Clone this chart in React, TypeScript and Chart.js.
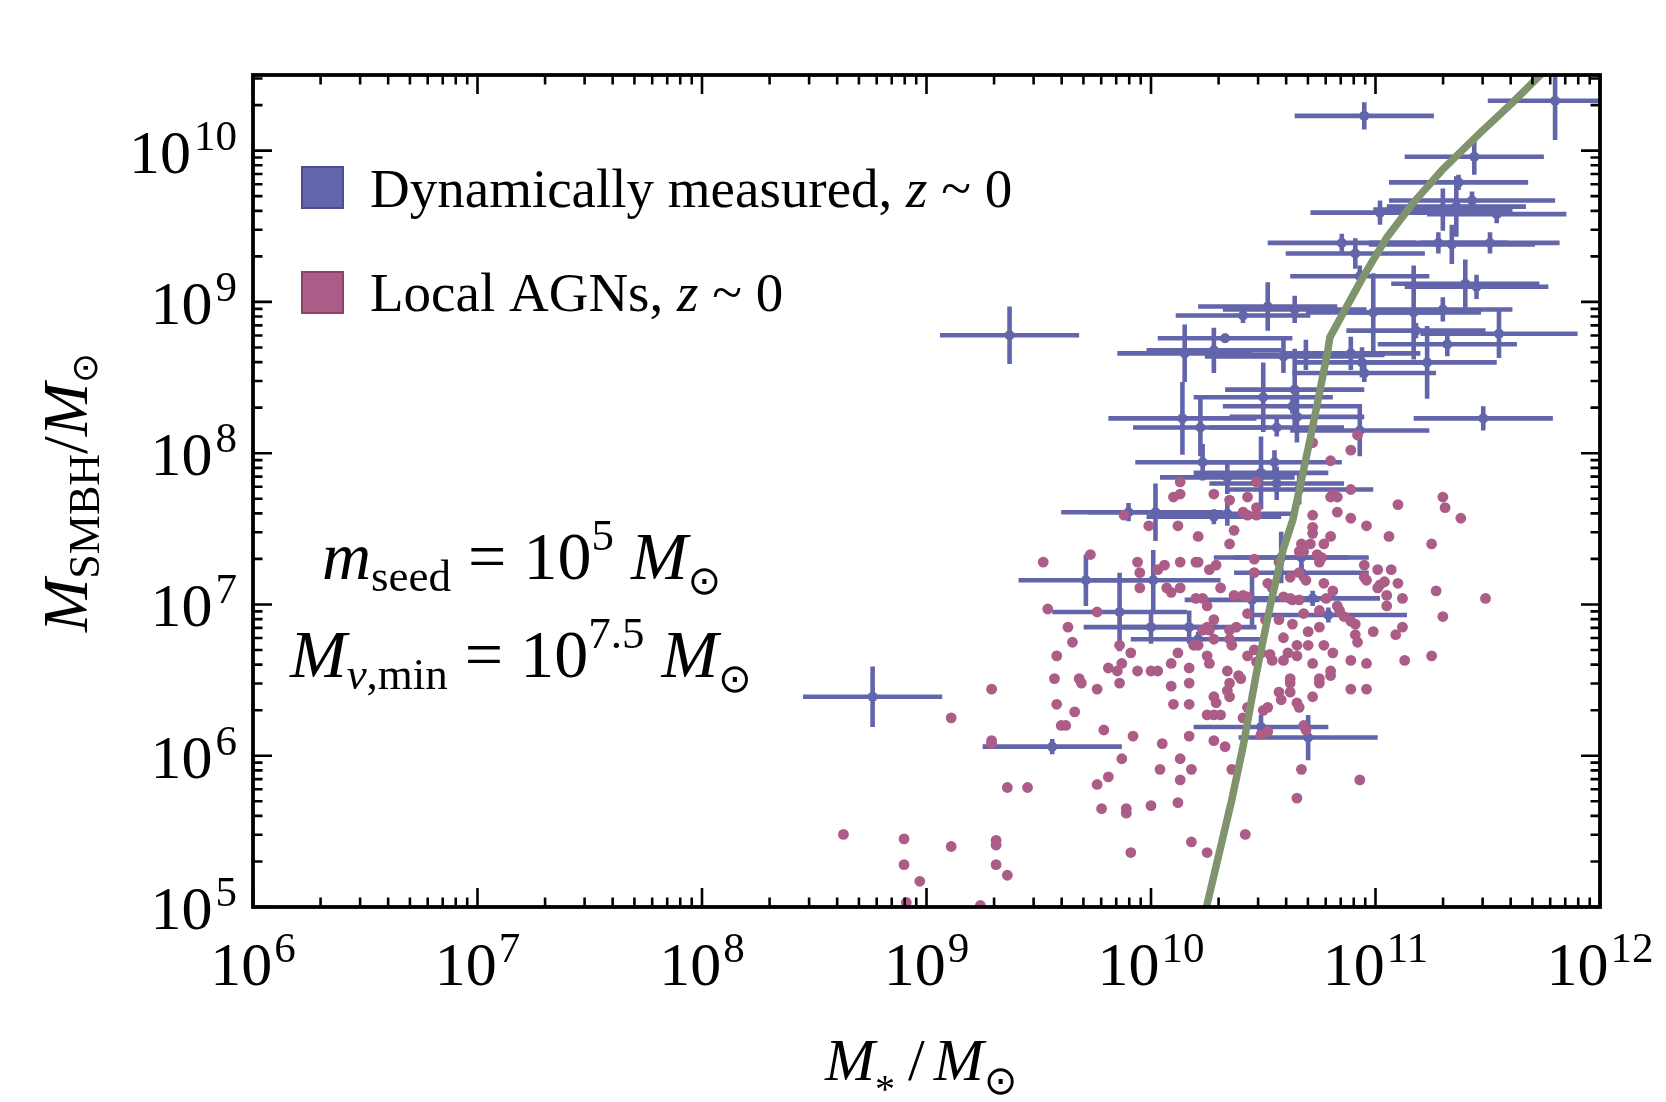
import React, { useEffect, useRef } from 'react';
import { Chart, registerables } from 'chart.js';

Chart.register(...registerables);

// ---------- axes ----------
const xTickExps = [6, 7, 8, 9, 10, 11, 12];
const yTickExps = [5, 6, 7, 8, 9, 10];
const X_MIN = 1e6;
const X_MAX = 1e12;
const Y_MIN = 1e5;
const Y_MAX = Math.pow(10, 10.5);

// ---------- model curve (log10 values) ----------
const curveLogMstar = [10.237, 10.247, 10.36, 10.41, 10.47, 10.53, 10.588, 10.632, 10.708, 10.744, 10.788, 10.797, 10.944, 11.051, 11.167, 11.296, 11.465, 11.612, 11.724, 11.77];
const curveLogMbh = [4.95, 5.0, 5.71, 6.06, 6.55, 6.985, 7.36, 7.56, 8.087, 8.35, 8.682, 8.767, 9.164, 9.428, 9.653, 9.871, 10.116, 10.32, 10.485, 10.55];

// ---------- dynamically measured SMBHs (log10 values, symmetric errors in dex) ----------
const dynLogMstar = [10.95, 11.80, 11.44, 11.37, 11.43, 11.54, 11.02, 11.30, 11.36, 10.85, 11.28, 11.34, 11.51, 10.91, 10.93, 11.40, 11.45, 10.52, 10.64, 10.41, 10.99, 11.17, 11.30, 10.15, 10.28, 10.33, 11.55, 11.18, 10.59, 10.69, 10.89, 11.32, 11.23, 10.94, 10.95, 11.48, 10.14, 10.22, 10.56, 10.50, 10.64, 10.65, 10.63, 10.93, 9.37, 10.23, 10.55, 10.49, 10.56, 10.34, 10.66, 9.90, 10.02, 10.28, 10.34, 10.58, 10.67, 10.67, 10.45, 10.72, 10.79, 9.71, 10.01, 9.86, 10.00, 10.17, 10.21, 10.49, 10.70, 9.56, 8.76];
const dynLogMstarErr = [0.31, 0.30, 0.31, 0.31, 0.37, 0.31, 0.31, 0.31, 0.31, 0.33, 0.31, 0.37, 0.31, 0.31, 0.31, 0.33, 0.32, 0.31, 0.32, 0.30, 0.30, 0.30, 0.31, 0.30, 0.30, 0.30, 0.35, 0.31, 0.35, 0.35, 0.31, 0.31, 0.31, 0.30, 0.32, 0.31, 0.33, 0.30, 0.30, 0.31, 0.31, 0.30, 0.31, 0.31, 0.31, 0.30, 0.30, 0.30, 0.30, 0.30, 0.33, 0.30, 0.30, 0.30, 0.30, 0.30, 0.30, 0.30, 0.30, 0.30, 0.35, 0.30, 0.30, 0.30, 0.30, 0.30, 0.30, 0.30, 0.31, 0.31, 0.31];
const dynLogMbh = [10.23, 10.33, 9.96, 9.79, 9.67, 9.58, 9.59, 9.61, 9.63, 9.39, 9.39, 9.38, 9.39, 9.32, 9.17, 9.12, 9.10, 8.97, 8.95, 8.91, 8.93, 8.93, 8.95, 8.66, 8.68, 8.76, 8.79, 8.81, 8.64, 8.65, 8.66, 8.72, 8.60, 8.60, 8.53, 8.23, 8.23, 8.17, 8.17, 8.37, 8.42, 8.24, 8.31, 8.15, 8.78, 7.94, 7.94, 7.87, 7.80, 7.84, 7.76, 7.61, 7.61, 7.58, 7.60, 7.31, 7.31, 7.21, 7.03, 7.04, 6.93, 7.16, 7.16, 6.95, 6.85, 6.85, 6.77, 6.19, 6.12, 6.06, 6.39];
const dynLogMbhErr = [0.09, 0.26, 0.12, 0.05, 0.06, 0.06, 0.08, 0.14, 0.20, 0.06, 0.07, 0.13, 0.07, 0.10, 0.07, 0.16, 0.08, 0.16, 0.09, 0.05, 0.26, 0.31, 0.08, 0.19, 0.15, 0.03, 0.16, 0.05, 0.11, 0.10, 0.11, 0.08, 0.24, 0.10, 0.06, 0.08, 0.24, 0.19, 0.06, 0.23, 0.27, 0.17, 0.05, 0.17, 0.19, 0.12, 0.08, 0.24, 0.11, 0.11, 0.10, 0.06, 0.19, 0.05, 0.08, 0.17, 0.11, 0.05, 0.18, 0.05, 0.05, 0.17, 0.20, 0.26, 0.11, 0.11, 0.05, 0.08, 0.15, 0.05, 0.20];

// ---------- local AGNs (log10 M*, log10 MBH) ----------
const agnLogMasses: [number, number][] = [
  [10.92, 8.12], [10.89, 8.02], [10.80, 7.95], [10.72, 8.07], [10.13, 7.81], [10.13, 7.73], [10.10, 7.71], [10.28, 7.73], [10.35, 7.69], [10.43, 7.71],
  [10.47, 7.81], [10.89, 7.76], [10.81, 7.73], [10.80, 7.71], [10.83, 7.71], [10.83, 7.61], [10.72, 7.59], [10.89, 7.57], [10.96, 7.52], [10.72, 7.51],
  [10.72, 7.47], [10.80, 7.45], [10.77, 7.40], [10.67, 7.40], [10.71, 7.40], [10.47, 7.64], [10.47, 7.59], [10.41, 7.61], [10.43, 7.59], [9.88, 7.59],
  [9.99, 7.52], [10.12, 7.52], [10.21, 7.45], [10.37, 7.49], [10.35, 7.40], [11.10, 7.66], [11.06, 7.45], [11.25, 7.40], [11.30, 7.71], [11.31, 7.64],
  [9.73, 7.33], [9.52, 7.28], [9.94, 7.28], [9.95, 7.21], [10.03, 7.23], [10.06, 7.26], [10.13, 7.28], [10.20, 7.28], [10.21, 7.28], [10.26, 7.23],
  [10.29, 7.26], [10.46, 7.30], [10.57, 7.28], [10.46, 7.21], [10.62, 7.18], [10.66, 7.35], [10.68, 7.35], [10.66, 7.21], [10.69, 7.16], [10.74, 7.33],
  [10.75, 7.28], [10.76, 7.31], [10.95, 7.26], [11.01, 7.23], [11.07, 7.23], [10.95, 7.18], [10.96, 7.16], [11.04, 7.15], [11.02, 7.13], [11.01, 7.11],
  [11.10, 7.14], [11.05, 7.06], [11.12, 7.04], [11.05, 6.99], [11.27, 7.09], [11.30, 6.92], [10.81, 7.09], [10.78, 7.04], [10.77, 7.14], [10.52, 7.14],
  [10.54, 7.11], [10.41, 7.06], [10.37, 7.06], [10.43, 7.05], [10.31, 7.11], [10.13, 7.11], [10.07, 7.11], [10.09, 7.08], [9.95, 7.11], [10.20, 7.04],
  [10.23, 7.04], [10.25, 6.99], [10.59, 7.05], [10.62, 7.04], [10.66, 7.03], [10.63, 7.03], [10.68, 6.94], [10.83, 6.99], [10.84, 6.96], [10.86, 6.92],
  [10.89, 6.89], [10.91, 6.87], [10.91, 6.80], [10.92, 6.75], [10.99, 6.82], [11.09, 6.80], [11.12, 6.85], [10.75, 6.96], [10.57, 6.90], [10.63, 6.87],
  [10.51, 6.90], [10.43, 6.94], [10.38, 6.85], [10.35, 6.83], [10.28, 6.90], [10.25, 6.85], [10.23, 6.83], [10.26, 6.83], [10.28, 6.77], [10.35, 6.77],
  [10.36, 6.73], [9.76, 6.95], [9.54, 6.97], [9.63, 6.85], [9.65, 6.75], [9.86, 6.73], [9.91, 6.68], [10.12, 6.68], [10.19, 6.73], [10.21, 6.73],
  [10.59, 6.78], [10.65, 6.73], [10.70, 6.73], [10.77, 6.73], [10.70, 6.82], [10.75, 6.85], [10.81, 6.68], [10.89, 6.63], [10.96, 6.61], [11.13, 6.63],
  [11.25, 6.66], [10.72, 6.61], [10.65, 6.66], [10.61, 6.68], [10.59, 6.63], [10.53, 6.67], [10.49, 6.68], [10.46, 6.70], [10.47, 6.62], [10.54, 6.63],
  [10.43, 6.66], [10.25, 6.66], [10.26, 6.61], [10.34, 6.56], [10.39, 6.53], [10.40, 6.51], [10.35, 6.48], [10.34, 6.43], [10.35, 6.39], [10.28, 6.39],
  [10.29, 6.35], [10.25, 6.27], [10.28, 6.27], [10.31, 6.27], [10.17, 6.34], [10.10, 6.34], [10.17, 6.48], [10.09, 6.46], [10.17, 6.58], [10.09, 6.61],
  [10.00, 6.56], [10.03, 6.56], [9.94, 6.56], [9.85, 6.56], [9.81, 6.58], [9.87, 6.61], [9.86, 6.48], [9.76, 6.44], [9.69, 6.48], [9.68, 6.51],
  [9.57, 6.51], [9.58, 6.66], [9.29, 6.44], [9.58, 6.34], [9.66, 6.29], [9.60, 6.20], [9.62, 6.20], [9.79, 6.17], [9.92, 6.13], [10.05, 6.08],
  [10.17, 6.13], [10.28, 6.10], [10.33, 6.06], [10.41, 6.25], [10.43, 6.32], [10.50, 6.30], [10.52, 6.32], [10.49, 6.14], [10.52, 6.16], [10.57, 6.42],
  [10.58, 6.37], [10.62, 6.42], [10.65, 6.35], [10.66, 6.32], [10.72, 6.39], [10.62, 6.51], [10.62, 6.48], [10.75, 6.51], [10.75, 6.48], [10.80, 6.56],
  [10.80, 6.53], [10.89, 6.44], [10.96, 6.44], [10.68, 6.20], [10.69, 6.17], [9.29, 6.10], [9.29, 6.08], [9.11, 6.25],
  [8.63, 5.48], [8.90, 5.45], [8.90, 5.28], [8.97, 5.17], [9.11, 5.40], [9.31, 5.44], [9.31, 5.41], [9.31, 5.28], [9.36, 5.21], [9.36, 5.79],
  [9.45, 5.79], [9.87, 5.98], [9.81, 5.86], [9.76, 5.81], [9.78, 5.65], [9.89, 5.65], [9.89, 5.62], [10.00, 5.67], [10.12, 5.69], [10.04, 5.91],
  [10.13, 5.98], [10.13, 5.84], [10.18, 5.91], [10.18, 5.43], [10.25, 5.36], [9.91, 5.36], [10.42, 5.48], [10.36, 5.91], [10.65, 5.72], [10.67, 5.91],
  [10.93, 5.84], [9.24, 5.01], [8.91, 5.03], [11.38, 7.57], [11.49, 7.04]
];

// ---------- styling ----------
const BLUE = '#6365ab';
const BLUE_EDGE = '#4c4d8c';
const PINK = '#ab5c87';
const PINK_EDGE = '#864468';
const GREEN = '#7f936d';
const SERIF = '"Liberation Serif", "Times New Roman", "DejaVu Sans", serif';

type Run = { t: string; size: number; italic?: boolean; dy?: number; dx?: number };

function fontOf(r: Run) {
  return `${r.italic ? 'italic ' : ''}${r.size}px ${SERIF}`;
}
function measureRuns(ctx: CanvasRenderingContext2D, runs: Run[]) {
  let w = 0;
  for (const r of runs) {
    ctx.font = fontOf(r);
    w += (r.dx || 0) + ctx.measureText(r.t).width;
  }
  return w;
}
function drawRuns(ctx: CanvasRenderingContext2D, runs: Run[], x: number, y: number) {
  let cx = x;
  for (const r of runs) {
    cx += r.dx || 0;
    ctx.font = fontOf(r);
    ctx.fillText(r.t, cx, y + (r.dy || 0));
    cx += ctx.measureText(r.t).width;
  }
  return cx - x;
}

function logTicks(min: number, max: number) {
  const out: { value: number; major: boolean }[] = [];
  for (let e = Math.floor(Math.log10(min)); e <= Math.floor(Math.log10(max)); e++) {
    for (let m = 1; m <= 9; m++) {
      const v = m * Math.pow(10, e);
      if (v >= min * 0.9999 && v <= max * 1.0001) out.push({ value: v, major: m === 1 });
    }
  }
  return out;
}

const errorBarPlugin = {
  id: 'errorBars',
  beforeDatasetsDraw(chart: any) {
    const { ctx, chartArea: a, scales } = chart;
    const xs = scales.x;
    const ys = scales.y;
    ctx.save();
    ctx.beginPath();
    ctx.rect(a.left, a.top, a.right - a.left, a.bottom - a.top);
    ctx.clip();
    ctx.strokeStyle = BLUE;
    ctx.lineWidth = 4.6;
    ctx.lineCap = 'butt';
    dynLogMstar.forEach((lx, i) => {
      const ly = dynLogMbh[i];
      const px = xs.getPixelForValue(Math.pow(10, lx));
      const py = ys.getPixelForValue(Math.pow(10, ly));
      const x0 = xs.getPixelForValue(Math.pow(10, lx - dynLogMstarErr[i]));
      const x1 = xs.getPixelForValue(Math.pow(10, lx + dynLogMstarErr[i]));
      const y0 = ys.getPixelForValue(Math.pow(10, ly - dynLogMbhErr[i]));
      const y1 = ys.getPixelForValue(Math.pow(10, ly + dynLogMbhErr[i]));
      ctx.beginPath();
      ctx.moveTo(x0, py);
      ctx.lineTo(x1, py);
      ctx.moveTo(px, y0);
      ctx.lineTo(px, y1);
      ctx.stroke();
    });
    ctx.restore();
  },
};

const framePlugin = {
  id: 'frameAndText',
  afterDraw(chart: any) {
    const { ctx, chartArea: a, scales } = chart;
    const xs = scales.x;
    const ys = scales.y;
    ctx.save();
    ctx.strokeStyle = '#000';
    ctx.fillStyle = '#000';
    ctx.lineCap = 'butt';
    ctx.lineWidth = 2.6;
    const MAJ = 19;
    const MIN = 9.5;
    ctx.beginPath();
    for (const t of xs.ticks) {
      const px = xs.getPixelForValue(t.value);
      const len = t.major ? MAJ : MIN;
      ctx.moveTo(px, a.bottom);
      ctx.lineTo(px, a.bottom - len);
      ctx.moveTo(px, a.top);
      ctx.lineTo(px, a.top + len);
    }
    for (const t of ys.ticks) {
      const py = ys.getPixelForValue(t.value);
      const len = t.major ? MAJ : MIN;
      ctx.moveTo(a.left, py);
      ctx.lineTo(a.left + len, py);
      ctx.moveTo(a.right, py);
      ctx.lineTo(a.right - len, py);
    }
    ctx.stroke();
    ctx.lineWidth = 3.8;
    ctx.strokeRect(a.left, a.top, a.right - a.left, a.bottom - a.top);

    // tick labels
    ctx.textAlign = 'left';
    ctx.textBaseline = 'alphabetic';
    for (const e of xTickExps) {
      const px = xs.getPixelForValue(Math.pow(10, e));
      const runs: Run[] = [{ t: '10', size: 62 }, { t: String(e), size: 43, dy: -23, dx: 2 }];
      const w = measureRuns(ctx, runs);
      drawRuns(ctx, runs, px - w / 2, a.bottom + 78);
    }
    for (const e of yTickExps) {
      const py = ys.getPixelForValue(Math.pow(10, e));
      const runs: Run[] = [{ t: '10', size: 62 }, { t: String(e), size: 43, dy: -23, dx: 3 }];
      const w = measureRuns(ctx, runs);
      drawRuns(ctx, runs, a.left - 16 - w, py + 22);
    }

    // x title
    drawRuns(ctx, [
      { t: 'M', size: 60, italic: true },
      { t: '*', size: 40, dy: 22 },
      { t: '/', size: 60, dx: 13 },
      { t: 'M', size: 60, italic: true, dx: 9 },
      { t: '\u2299', size: 40, dy: 14 },
    ], 825, 1080);

    // y title (rotated)
    ctx.save();
    ctx.translate(87, 632);
    ctx.rotate(-Math.PI / 2);
    drawRuns(ctx, [
      { t: 'M', size: 64, italic: true },
      { t: 'SMBH', size: 44, dy: 12 },
      { t: '/', size: 64 },
      { t: 'M', size: 64, italic: true },
      { t: '\u2299', size: 36, dy: 10 },
    ], 0, 0);
    ctx.restore();

    // legend
    ctx.lineWidth = 2;
    ctx.fillStyle = BLUE;
    ctx.fillRect(302, 167, 41, 41);
    ctx.strokeStyle = BLUE_EDGE;
    ctx.strokeRect(302, 167, 41, 41);
    ctx.fillStyle = PINK;
    ctx.fillRect(302, 272, 41, 41);
    ctx.strokeStyle = PINK_EDGE;
    ctx.strokeRect(302, 272, 41, 41);
    ctx.fillStyle = '#000';
    drawRuns(ctx, [
      { t: 'Dynamically measured, ', size: 55 },
      { t: 'z', size: 55, italic: true },
      { t: ' ~ 0', size: 55 },
    ], 370, 207);
    drawRuns(ctx, [
      { t: 'Local AGNs, ', size: 55 },
      { t: 'z', size: 55, italic: true },
      { t: ' ~ 0', size: 55 },
    ], 370, 311);

    // annotations
    drawRuns(ctx, [
      { t: 'm', size: 68, italic: true },
      { t: 'seed', size: 45, dy: 12 },
      { t: ' = ', size: 68 },
      { t: '10', size: 68 },
      { t: '5', size: 45, dy: -29 },
      { t: ' ', size: 68 },
      { t: 'M', size: 68, italic: true },
      { t: '\u2299', size: 40, dy: 15 },
    ], 322, 579);
    drawRuns(ctx, [
      { t: 'M', size: 68, italic: true },
      { t: 'v', size: 45, italic: true, dy: 12 },
      { t: ',min', size: 45, dy: 12 },
      { t: ' = ', size: 68 },
      { t: '10', size: 68 },
      { t: '7.5', size: 45, dy: -29 },
      { t: ' ', size: 68 },
      { t: 'M', size: 68, italic: true },
      { t: '\u2299', size: 40, dy: 15 },
    ], 290, 677);
    ctx.restore();
  },
};

export default function App() {
  const canvasRef = useRef<HTMLCanvasElement | null>(null);

  useEffect(() => {
    const canvas = canvasRef.current;
    if (!canvas) return;
    const chart = new Chart(canvas, {
      type: 'scatter',
      data: {
        datasets: [
          {
            label: 'Model',
            data: curveLogMstar.map((v, i) => ({ x: Math.pow(10, v), y: Math.pow(10, curveLogMbh[i]) })),
            showLine: true,
            borderColor: GREEN,
            borderWidth: 7.5,
            pointRadius: 0,
            tension: 0,
            borderJoinStyle: 'round',
            clip: 0,
            order: 0,
          } as any,
          {
            label: 'Local AGNs, z ~ 0',
            data: agnLogMasses.map(([mx, my]) => ({ x: Math.pow(10, mx), y: Math.pow(10, my) })),
            backgroundColor: PINK,
            borderWidth: 0,
            pointRadius: 5.4,
            clip: 0,
            order: 1,
          } as any,
          {
            label: 'Dynamically measured, z ~ 0',
            data: dynLogMstar.map((v, i) => ({ x: Math.pow(10, v), y: Math.pow(10, dynLogMbh[i]) })),
            backgroundColor: BLUE,
            borderWidth: 0,
            pointRadius: 5,
            clip: 0,
            order: 2,
          } as any,
        ],
      },
      options: {
        animation: false,
        responsive: false,
        devicePixelRatio: 1,
        layout: { padding: { left: 0, right: 66, top: 75, bottom: 0 }, autoPadding: false } as any,
        plugins: { legend: { display: false }, tooltip: { enabled: false } },
        scales: {
          x: {
            type: 'logarithmic',
            min: X_MIN,
            max: X_MAX,
            afterBuildTicks: (s: any) => { s.ticks = logTicks(X_MIN, X_MAX); },
            afterFit: (s: any) => { s.height = 195; },
            ticks: { display: false },
            grid: { display: false },
            border: { display: false },
          },
          y: {
            type: 'logarithmic',
            min: Y_MIN,
            max: Y_MAX,
            afterBuildTicks: (s: any) => { s.ticks = logTicks(Y_MIN, Y_MAX); },
            afterFit: (s: any) => { s.width = 253; },
            ticks: { display: false },
            grid: { display: false },
            border: { display: false },
          },
        },
      } as any,
      plugins: [errorBarPlugin, framePlugin],
    });
    return () => chart.destroy();
  }, []);

  return (
    <div style={{ position: 'absolute', left: 0, top: 0, width: 1666, height: 1102, background: '#fff' }}>
      <canvas ref={canvasRef} width={1666} height={1102} style={{ display: 'block', width: 1666, height: 1102 }} />
    </div>
  );
}
